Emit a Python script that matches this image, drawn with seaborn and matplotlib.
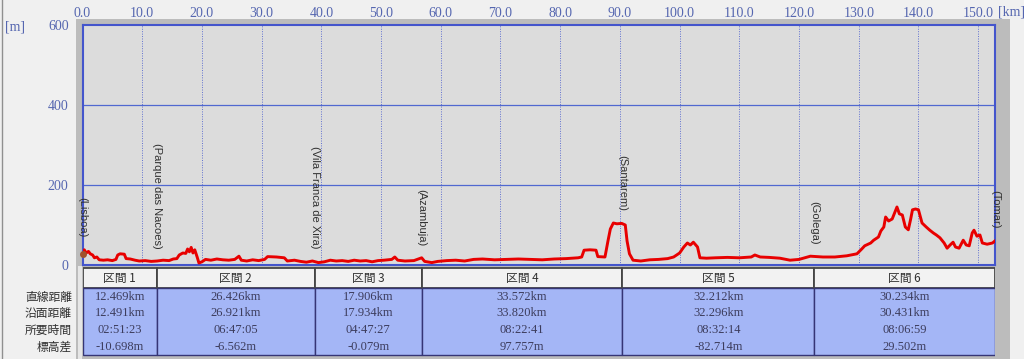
import numpy as np
import matplotlib
matplotlib.use("Agg")
import matplotlib.pyplot as plt
from matplotlib.patches import Rectangle
import seaborn as sns

# ---------------- data ----------------
dist_km = [0.0, 0.3, 0.6, 1.0, 1.3, 1.7, 2.0, 2.4, 2.8, 3.5, 4.2, 5.0, 5.6, 5.9, 6.3, 7.0, 7.3, 8.0,
           8.8, 9.5, 10.5, 11.5, 12.5, 13.5, 14.5, 15.2, 15.8, 16.2, 16.8, 17.3, 17.6, 17.9, 18.2,
           18.5, 18.8, 19.2, 19.5, 20.0, 20.6, 21.5, 22.5, 23.5, 24.5, 25.5, 26.2, 26.6, 27.5, 28.5,
           29.5, 30.5, 31.0, 32.5, 33.8, 34.3, 35.5, 36.5, 37.5, 38.5, 39.5, 40.5, 41.5, 42.5, 43.5,
           44.5, 45.5, 46.5, 47.5, 48.5, 49.5, 50.5, 51.8, 52.3, 52.8, 54.0, 55.5, 56.8, 57.3, 58.5,
           59.5, 61.0, 62.5, 64.0, 65.5, 67.0, 69.0, 71.0, 73.0, 75.0, 77.0, 79.0, 81.0, 83.0, 83.6,
           84.0, 85.0, 86.0, 86.3, 87.5, 88.0, 88.4, 88.9, 89.5, 90.3, 90.9, 91.2, 91.6, 92.2, 93.5,
           95.0, 96.5, 98.0, 99.0, 100.0, 100.7, 101.3, 101.8, 102.3, 103.0, 103.4, 104.5, 106.0,
           108.0, 110.0, 112.0, 112.6, 113.5, 115.0, 116.8, 118.5, 120.0, 121.9, 124.0, 126.0, 128.0,
           129.7, 130.5, 131.0, 132.0, 132.5, 133.3, 133.7, 134.2, 134.5, 135.0, 135.6, 136.0, 136.4,
           136.8, 137.3, 137.8, 138.3, 138.7, 139.0, 139.5, 140.0, 140.6, 141.3, 141.9, 142.5, 143.0,
           143.6, 144.3, 144.8, 145.3, 145.8, 146.2, 146.8, 147.5, 148.0, 148.5, 149.0, 149.3, 149.8,
           150.3, 150.7, 151.5, 152.4, 152.8]
elev_m = [35, 38, 30, 34, 28, 25, 18, 20, 13, 12, 13, 11, 14, 25, 28, 27, 16, 15,
          12, 10, 11, 9, 10, 12, 11, 15, 16, 25, 30, 29, 40, 33, 44,
          30, 38, 20, 5, 8, 14, 12, 15, 13, 12, 14, 22, 12, 10, 13,
          11, 14, 21, 20, 18, 10, 12, 9, 7, 10, 6, 8, 12, 10, 11,
          9, 12, 10, 11, 8, 11, 12, 14, 20, 12, 10, 11, 18, 9, 6,
          9, 11, 12, 10, 14, 15, 13, 14, 15, 14, 13, 15, 16, 18, 20,
          37, 38, 37, 21, 20, 60, 90, 105, 103, 104, 100, 60, 28, 12, 10,
          13, 14, 16, 20, 30, 45, 55, 50, 57, 45, 18, 17, 18,
          19, 18, 20, 25, 20, 19, 17, 12, 14, 22, 20, 20, 23,
          28, 40, 48, 55, 62, 70, 85, 95, 120, 110, 115, 130, 145,
          128, 125, 95, 88, 115, 138, 140, 138, 105, 95, 87, 80, 75,
          68, 55, 42, 50, 57, 45, 42, 62, 50, 48, 80, 87, 72,
          75, 55, 52, 55, 60]

places = ["(Lisboa)", "(Parque das Nacoes)", "(Vila Franca de Xira)", "(Azambuja)",
          "(Santarem)", "(Golega)", "(Tomar)"]
sections = ["区間 1", "区間 2", "区間 3", "区間 4", "区間 5", "区間 6"]
row_labels = ["直線距離", "沿面距離", "所要時間", "標高差"]
straight_km = [12.469, 26.426, 17.906, 33.572, 32.212, 30.234]
surface_km = [12.491, 26.921, 17.934, 33.820, 32.296, 30.431]
durations = ["02:51:23", "06:47:05", "04:47:27", "08:22:41", "08:32:14", "08:06:59"]
elev_diff_m = [-10.698, -6.562, -0.079, 97.757, -82.714, 29.502]
x_ticks = [0, 10, 20, 30, 40, 50, 60, 70, 80, 90, 100, 110, 120, 130, 140, 150]
y_ticks = [0, 200, 400, 600]

# ---------------- layout helpers ----------------
W, H = 1024, 359
fig = plt.figure(figsize=(W / 100, H / 100), dpi=100, facecolor="#f0f0f0")


def fx(px):
    return px / W


def fy(py):
    return 1 - py / H


bounds = np.concatenate([[0], np.cumsum(straight_km)])
xmax = bounds[-1]

# gray frame behind plot and table
fig.patches.append(Rectangle((fx(76), fy(359)), fx(1010) - fx(76), fy(19) - fy(359),
                             transform=fig.transFigure, facecolor="#bcbcbc",
                             edgecolor="none", zorder=-5))
fig.patches.append(Rectangle((fx(78), fy(359)), fx(82) - fx(78), fy(266) - fy(359),
                             transform=fig.transFigure, facecolor="#e6e6e6",
                             edgecolor="none", zorder=-4))
fig.lines.append(plt.Line2D([fx(2), fx(2)], [0, 1], transform=fig.transFigure,
                            color="#909090", lw=1, zorder=-4))

L, R = 82.5, 995
ax = fig.add_axes([fx(L), fy(265), fx(R) - fx(L), fy(25) - fy(265)])
ax.set_zorder(2)
ax.set_facecolor("#dcdcdc")
sns.lineplot(x=dist_km, y=elev_m, ax=ax, color="#e80000", lw=2.1,
             estimator=None, sort=False, zorder=3)
ax.plot([0.15], [elev_m[0] - 8], marker="o", ms=4, color="#a0522d", zorder=4, clip_on=False)
ax.set_xlim(0, xmax)
ax.set_ylim(0, 600)
ax.set_xlabel("")
ax.set_ylabel("")

blue = "#5566b0"
for s in ax.spines.values():
    s.set_color("#4455cc")
    s.set_linewidth(1.5)
ax.xaxis.tick_top()
ax.set_xticks(x_ticks)
ax.set_xticklabels([f"{v:.1f}" for v in x_ticks], family="Liberation Serif", fontsize=10, color=blue)
ax.set_yticks(y_ticks)
ax.set_yticklabels([str(v) for v in y_ticks], family="Liberation Serif", fontsize=10, color=blue)
ax.tick_params(axis="x", length=0, pad=3.5)
ax.tick_params(axis="y", length=0, pad=10)
for v in x_ticks[1:]:
    ax.axvline(v, color="#6070d0", lw=0.7, ls=(0, (1, 1.5)), zorder=1)
for v in y_ticks[1:-1]:
    ax.axhline(v, color="#5068d0", lw=0.9, zorder=1)

fig.text(fx(5), fy(27), "[m]", family="Liberation Serif", fontsize=10, color=blue, va="center")
fig.text(fx(998), fy(12), "[km]", family="Liberation Serif", fontsize=10, color=blue, va="center")

# place labels (vertical)
d = np.array(dist_km)
e = np.array(elev_m)
for xb, name in zip(bounds, places):
    near = e[(d >= xb - 0.8) & (d <= xb + 0.8)]
    ybot = near.max() + 30
    ax.text(xb, ybot, name, rotation=270, ha="center", va="bottom",
            family="Liberation Sans", fontsize=8, color="#303030", clip_on=False, zorder=5)

# ---------------- table ----------------
ax2 = fig.add_axes([fx(L), fy(357), fx(R) - fx(L), fy(266) - fy(357)])
ax2.set_zorder(2)
ax2.set_xlim(0, xmax)
ax2.set_ylim(91, 0)
ax2.axis("off")

row_texts = [[f"{v:.3f}km" for v in straight_km],
             [f"{v:.3f}km" for v in surface_km],
             durations,
             [f"{v:.3f}m" for v in elev_diff_m]]
row_centers = [30.5, 47.2, 64.0, 80.7]
for i in range(len(sections)):
    x0, x1 = bounds[i], bounds[i + 1]
    ax2.add_patch(Rectangle((x0, 2), x1 - x0, 20, facecolor="#f2f2f2",
                            edgecolor="#454545", lw=1.3))
    ax2.add_patch(Rectangle((x0, 22), x1 - x0, 67, facecolor="#a4b6f6",
                            edgecolor="#353575", lw=1.0))
    ax2.text((x0 + x1) / 2, 12, sections[i], ha="center", va="center",
             family=["Noto Sans CJK JP", "DejaVu Sans"], fontsize=8.5, color="#303030")
    for r, yc in enumerate(row_centers):
        ax2.text((x0 + x1) / 2, yc, row_texts[r][i], ha="center", va="center",
                 family="Liberation Serif", fontsize=9, color="#3c3c5c")

for lab, yc in zip(row_labels, [297, 313.5, 330, 347]):
    fig.text(fx(72), fy(yc), lab, ha="right", va="center",
             family=["Noto Sans CJK JP", "DejaVu Sans"], fontsize=8.5, color="#303030")

fig.savefig("out.png", dpi=100, facecolor=fig.get_facecolor())
